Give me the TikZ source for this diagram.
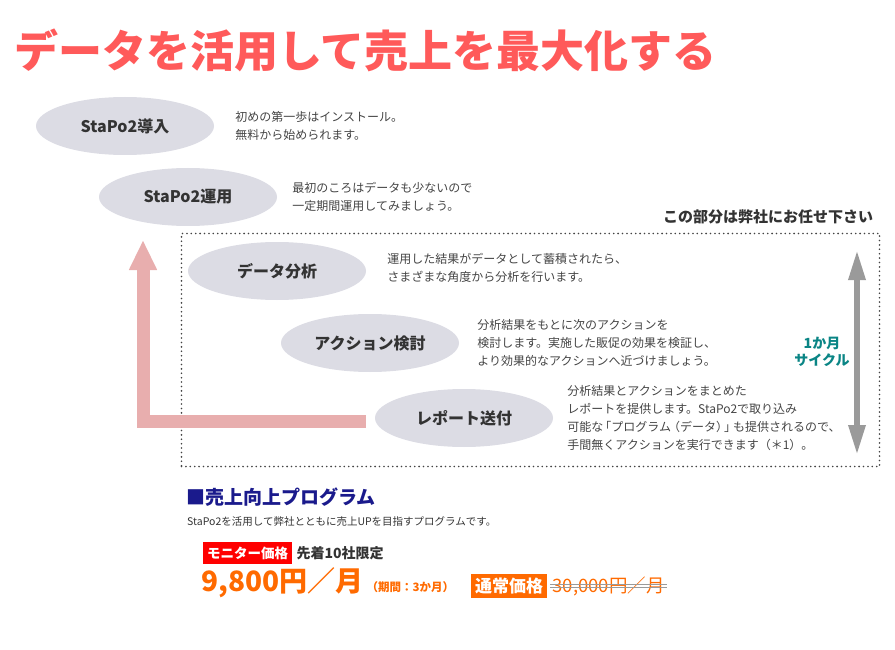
\documentclass[tikz,border=0pt]{standalone}
\usepackage{fontspec}
\setmainfont{Noto Sans CJK JP}
\usetikzlibrary{arrows.meta,positioning,shapes.geometric}
\definecolor{Headline}{HTML}{FF5A5A}
\definecolor{Stage}{HTML}{DCDCE4}
\definecolor{Ink}{HTML}{333333}
\definecolor{Body}{HTML}{444444}
\definecolor{Loop}{HTML}{E8AEAE}
\definecolor{Cycle}{HTML}{9A9A9A}
\definecolor{Teal}{HTML}{0A8585}
\definecolor{Navy}{HTML}{1A1A8C}
\definecolor{Monitor}{HTML}{FF0000}
\definecolor{Price}{HTML}{FF6A00}
\tikzset{
  stage/.style={ellipse,fill=Stage,minimum width=178pt,minimum height=58pt,inner sep=0pt,text=Ink,font=\fontsize{16}{18}\selectfont\bfseries},
  desc/.style={align=left,inner sep=0pt,text=Body,font=\fontsize{12}{18}\selectfont},
  tag/.style={text=white,inner xsep=4pt,inner ysep=0pt,font=\bfseries},
  loopflow/.style={draw=Loop,line width=13pt,line join=miter,-{Triangle[length=30pt,width=26pt]}},
  cycflow/.style={draw=Cycle,line width=6pt,{Triangle[length=30pt,width=16pt]}-{Triangle[length=30pt,width=16pt]}},
  cyclebox/.style={draw=Body,line width=1.8pt,line cap=round,dash pattern=on 0pt off 4.4pt,inner sep=0pt},
  strike/.style={draw=Cycle,line width=.8pt}
}
\begin{document}
\begin{tikzpicture}[x=1pt,y=-1pt]
  \useasboundingbox (0,0) rectangle (895,650);
  \node[anchor=west,inner sep=0pt,text=Headline,font=\fontsize{44}{48}\selectfont\bfseries] (title) at (14,50) {データを活用して売上を最大化する};

  % steps
  \node[stage] (intro) at (125,126) {StaPo2導入};
  \node[stage] (unyo) at (188,197) {StaPo2運用};
  \node[cyclebox,minimum width=698pt,minimum height=233pt] (cycle) at (530.5,350) {};
  \node[stage] (analysis) at (277,271) {データ分析};
  \node[stage] (action) at (370,343) {アクション検討};
  \node[stage] (report) at (464,418) {レポート送付};

  \node[desc,right=21pt of intro] (introtxt) {初めの第一歩はインストール。\\無料から始められます。};
  \node[desc,right=15pt of unyo] (unyotxt) {最初のころはデータも少ないので\\一定期間運用してみましょう。};
  \node[desc,right=21pt of analysis,yshift=3pt] (analysistxt) {運用した結果がデータとして蓄積されたら、\\さまざまな角度から分析を行います。};
  \node[desc,right=18pt of action] (actiontxt) {分析結果をもとに次のアクションを\\検討します。実施した販促の効果を検証し、\\より効果的なアクションへ近づけましょう。};
  \node[desc,right=14pt of report] (reporttxt) {分析結果とアクションをまとめた\\レポートを提供します。StaPo2で取り込み\\可能な\kern-4pt「プログラム\kern-3pt（データ）\kern-4pt」\kern-3ptも提供されるので、\\手間無くアクションを実行できます（＊1）。};

  \node[anchor=south east,inner sep=0pt,text=Ink,font=\fontsize{15}{16}\selectfont\bfseries] (owner) at ([xshift=-7pt,yshift=8pt]cycle.north east) {この部分は弊社にお任せ下さい};

  % loop back
  \coordinate (looptop) at (143,240);
  \draw[loopflow] ([xshift=-9pt,yshift=-3pt]report.west) -| (looptop);

  % monthly cycle
  \coordinate (cyctop) at (857,250);
  \coordinate (cycbot) at (857,455);
  \draw[cycflow] (cycbot) -- (cyctop);
  \node[align=center,inner sep=0pt,text=Teal,font=\fontsize{14}{17}\selectfont\bfseries] (month) at (822,352) {1か月\\サイクル};

  % program
  \node[anchor=west,inner sep=0pt,text=Navy,font=\fontsize{19}{21}\selectfont\bfseries] (prog) at (186,497) {■売上向上プログラム};
  \node[anchor=west,inner sep=0pt,text=Ink,font=\fontsize{10.5}{12}\selectfont] (progtxt) at (187,522) {StaPo2を活用して弊社とともに売上UPを目指すプログラムです。};
  \node[tag,fill=Monitor,anchor=west,minimum height=22pt,font=\fontsize{13.5}{15}\selectfont\bfseries] (monitor) at (203,553) {モニター価格};
  \node[right=4pt of monitor,inner sep=0pt,text=Ink,font=\fontsize{14}{16}\selectfont\bfseries] (limited) {先着10社限定};
  \node[anchor=west,inner sep=0pt,text=Price,font=\fontsize{28}{30}\selectfont\bfseries] (price) at (201,583) {9,800円／月};
  \node[base right=3pt of price,inner sep=0pt,text=Price,font=\fontsize{11.5}{13}\selectfont\bfseries] (term) {（期間：3か月）};
  \node[tag,fill=Price,anchor=west,minimum height=24pt,font=\fontsize{17}{19}\selectfont\bfseries] (regtag) at (471,586) {通常価格};
  \node[right=5pt of regtag,inner sep=0pt,text=Price,font=\fontsize{18.5}{20}\selectfont] (regular) {30,000円／月};
  \draw[strike] ([xshift=-2pt,yshift=2pt]regular.west) -- ([xshift=2pt,yshift=2pt]regular.east);
  \draw[strike] ([xshift=-2pt,yshift=-1pt]regular.west) -- ([xshift=2pt,yshift=-1pt]regular.east);
\end{tikzpicture}
\end{document}
